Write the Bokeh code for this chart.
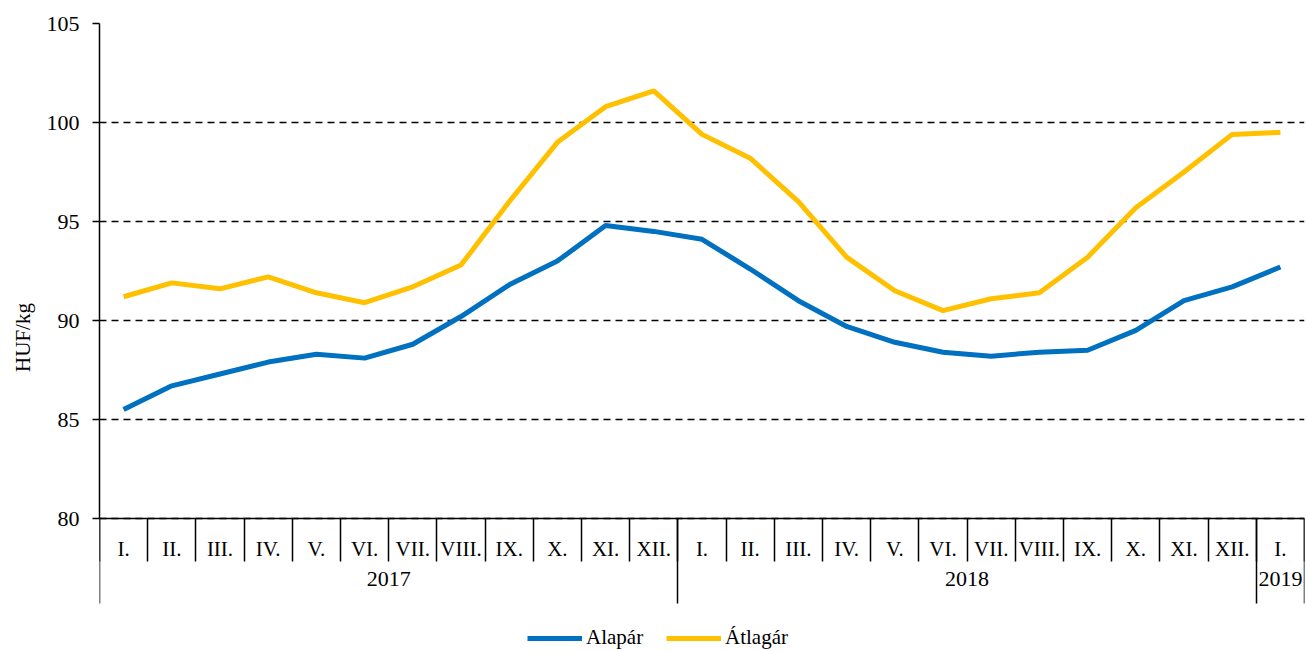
from bokeh.plotting import figure
from bokeh.models import (FixedTicker, LinearAxis, Range1d, Legend, LegendItem,
                          ColumnDataSource)
from bokeh.embed import file_html
from bokeh.resources import INLINE

# ---- data ----
months = ["I.", "II.", "III.", "IV.", "V.", "VI.", "VII.", "VIII.", "IX.", "X.", "XI.", "XII.",
          "I.", "II.", "III.", "IV.", "V.", "VI.", "VII.", "VIII.", "IX.", "X.", "XI.", "XII.",
          "I."]
years = ["2017", "2018", "2019"]
year_lengths = [12, 12, 1]
alapar = [85.5, 86.7, 87.3, 87.9, 88.3, 88.1, 88.8, 90.2, 91.8, 93.0, 94.8, 94.5,
          94.1, 92.6, 91.0, 89.7, 88.9, 88.4, 88.2, 88.4, 88.5, 89.5, 91.0, 91.7, 92.7]
atlagar = [91.2, 91.9, 91.6, 92.2, 91.4, 90.9, 91.7, 92.8, 96.0, 99.0, 100.8, 101.6,
           99.4, 98.2, 96.0, 93.2, 91.5, 90.5, 91.1, 91.4, 93.2, 95.7, 97.5, 99.4, 99.5]
series_names = ["Alapár", "Átlagár"]
y_ticks = [80, 85, 90, 95, 100, 105]

FONT = "Liberation Serif"
BLUE = "#0070C0"
YELLOW = "#FFC000"

# ---- layout (pixels) ----
TOP, LEFT = 23, 99
PLOT_H = 495            # height of the 80..105 value area
BOTTOM_H = 133          # room below the value area for the category rows + legend
FRAME_W = 1205

n = len(months)
xs = [i + 0.5 for i in range(n)]

bounds = [0]
for L in year_lengths:
    bounds.append(bounds[-1] + L)
year_centres = [(bounds[k] + bounds[k + 1]) / 2 for k in range(len(years))]

y_lo, y_hi = y_ticks[0], y_ticks[-1]
y_start = y_lo - BOTTOM_H * (y_hi - y_lo) / PLOT_H

p = figure(frame_width=FRAME_W, frame_height=PLOT_H + BOTTOM_H, output_backend="svg",
           toolbar_location=None, x_range=Range1d(0, n), y_range=Range1d(y_start, y_hi),
           min_border_left=LEFT, min_border_top=TOP, min_border_right=2, min_border_bottom=0,
           x_axis_location=None)
p.outline_line_color = None
p.background_fill_color = "white"
p.border_fill_color = "white"

src = ColumnDataSource(dict(x=xs, a=alapar, b=atlagar))
r1 = p.line("x", "a", source=src, line_color=BLUE, line_width=5)
r2 = p.line("x", "b", source=src, line_color=YELLOW, line_width=5)

# y axis (line limited to 80..105)
yax = p.yaxis[0]
yax.ticker = FixedTicker(ticks=y_ticks)
yax.bounds = (y_lo, y_hi)
yax.axis_label = "HUF/kg"
yax.axis_label_text_font = FONT
yax.axis_label_text_font_size = "21px"
yax.axis_label_text_font_style = "normal"
yax.axis_label_text_color = "black"
yax.axis_label_standoff = 9
yax.major_label_text_font = FONT
yax.major_label_text_font_size = "22px"
yax.major_label_text_color = "black"
yax.major_label_standoff = 13
yax.major_tick_out = 7
yax.major_tick_in = 0
yax.minor_tick_line_color = None
yax.axis_line_width = 1.5
yax.major_tick_line_width = 1.5
yax.axis_line_color = "black"

p.xgrid.grid_line_color = None
p.ygrid.ticker = FixedTicker(ticks=y_ticks)
p.ygrid.grid_line_color = "black"
p.ygrid.grid_line_dash = "7 5"
p.ygrid.grid_line_width = 1.5

# month axis (labels + month separators), anchored at y = 80
month_axis = LinearAxis(ticker=FixedTicker(ticks=xs, minor_ticks=list(range(n + 1))),
                        fixed_location=y_lo)
month_axis.major_label_overrides = {x: m for x, m in zip(xs, months)}
month_axis.major_tick_out = 0
month_axis.major_tick_in = 0
month_axis.minor_tick_out = 43
month_axis.minor_tick_in = 0
month_axis.minor_tick_line_width = 1.5
month_axis.minor_tick_line_color = "black"
month_axis.axis_line_width = 1.5
month_axis.axis_line_color = "black"
month_axis.major_label_text_font = FONT
month_axis.major_label_text_font_size = "21px"
month_axis.major_label_text_color = "black"
month_axis.major_label_standoff = -25
p.add_layout(month_axis, "below")

# year axis (labels + year separators), anchored at y = 80
year_axis = LinearAxis(ticker=FixedTicker(ticks=year_centres, minor_ticks=bounds),
                       fixed_location=y_lo)
year_axis.major_label_overrides = {c: y for c, y in zip(year_centres, years)}
year_axis.axis_line_color = None
year_axis.major_tick_out = 0
year_axis.major_tick_in = 0
year_axis.minor_tick_in = 0
year_axis.minor_tick_out = 85
year_axis.minor_tick_line_width = 1.5
year_axis.minor_tick_line_color = "black"
year_axis.major_label_text_font = FONT
year_axis.major_label_text_font_size = "22px"
year_axis.major_label_text_color = "black"
year_axis.major_label_standoff = -32
p.add_layout(year_axis, "below")

legend = Legend(items=[LegendItem(label=series_names[0], renderers=[r1]),
                       LegendItem(label=series_names[1], renderers=[r2])],
                orientation="horizontal", location=(428, 1),
                glyph_width=55, glyph_height=24, label_standoff=4, spacing=20,
                label_width=60,
                label_text_font=FONT, label_text_font_size="21px",
                label_text_color="black",
                border_line_color=None, background_fill_alpha=0,
                padding=0, margin=0)
p.add_layout(legend, "center")

open("out.html", "w").write(file_html(p, INLINE))
